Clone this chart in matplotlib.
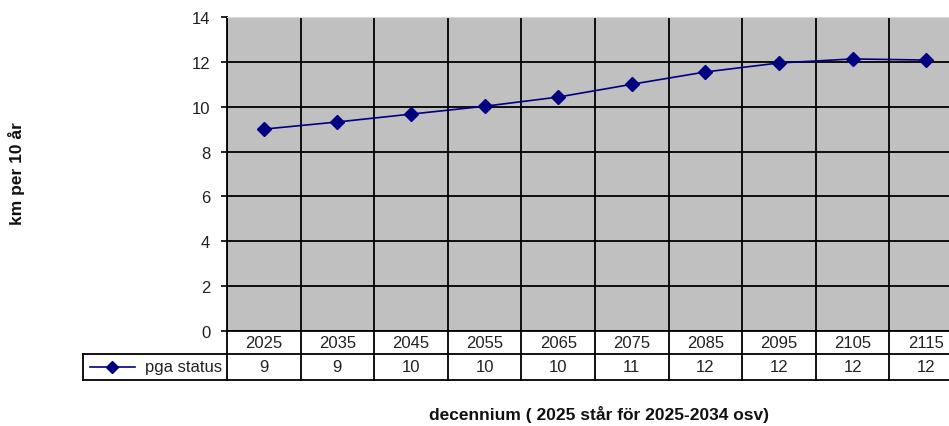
import numpy as np
import matplotlib
matplotlib.use('Agg')
import matplotlib.pyplot as plt
import matplotlib.transforms as mtransforms
from matplotlib.lines import Line2D

plt.rcParams['font.family'] = ['Liberation Sans', 'DejaVu Sans']

years = ['2025', '2035', '2045', '2055', '2065', '2075', '2085', '2095', '2105', '2115']
values = [9.0, 9.32, 9.67, 10.02, 10.43, 11.0, 11.55, 11.95, 12.13, 12.08]
table_values = ['9', '9', '10', '10', '10', '11', '12', '12', '12', '12']
series_name = 'pga status'
y_ticks = [0, 2, 4, 6, 8, 10, 12, 14]

W, H = 949, 427
fig = plt.figure(figsize=(W / 100, H / 100), dpi=100)
ax = fig.add_axes([227 / W, 1 - 332 / H, 736 / W, 314 / H])
ax.set_facecolor('#c0c0c0')

x = np.arange(len(years))
ax.plot(x, values, color='#000080', lw=1.2, marker='D', ms=7,
        markerfacecolor='#000080', markeredgecolor='#000080')

ax.set_xlim(-0.5, len(years) - 0.5)
ax.set_ylim(0, 14)
ax.set_yticks(y_ticks)
ax.set_xticks(np.arange(len(years) + 1) - 0.5)
ax.set_xticklabels([])
ax.tick_params(axis='x', length=0)
ax.tick_params(axis='y', length=4, width=1.2, pad=8, labelsize=12,
               color='black', labelcolor='#222222')
ax.grid(True, color='black', lw=1.3)
ax.set_axisbelow(True)
ax.spines['right'].set_visible(False)
ax.spines['top'].set_color('#d8d8d8')
ax.spines['left'].set_linewidth(1.3)
ax.spines['bottom'].set_linewidth(1.3)

# data table below the axis
tr = mtransforms.blended_transform_factory(ax.transData, ax.transAxes)
r1 = -23 / 314
r2 = -49 / 314
leg_left = -0.5 - 144 / 73.6
n = len(years)
lk = dict(color='black', lw=1.3, transform=tr, clip_on=False)
ax.add_line(Line2D([leg_left, n - 0.5], [r1, r1], **lk))
ax.add_line(Line2D([leg_left, n - 0.5], [r2, r2], **lk))
ax.add_line(Line2D([leg_left, leg_left], [r1, r2], **lk))
for b in np.arange(n + 1) - 0.5:
    ax.add_line(Line2D([b, b], [0, r2], **lk))
for i in range(n):
    ax.text(x[i], r1 / 2, years[i], transform=tr, ha='center', va='center',
            fontsize=12, color='#222222')
    ax.text(x[i], (r1 + r2) / 2, table_values[i], transform=tr, ha='center',
            va='center', fontsize=12, color='#222222')

# legend key inside the table
lx0 = leg_left + 7 / 73.6
lx1 = leg_left + 52 / 73.6
ym = (r1 + r2) / 2
ax.add_line(Line2D([lx0, lx1], [ym, ym], color='#000080', lw=1.2,
                   transform=tr, clip_on=False))
ax.add_line(Line2D([(lx0 + lx1) / 2], [ym], color='#000080', marker='D',
                   ms=6, transform=tr, clip_on=False))
ax.text(-0.5 - 5 / 73.6, ym, series_name, transform=tr, ha='right',
        va='center', fontsize=12, color='#222222')

fig.text(17 / W, 1 - 174 / H, 'km per 10 år', rotation=90, ha='center',
         va='center', fontsize=12.5, fontweight='bold', color='#111111')
fig.text(599 / W, 1 - 415 / H, 'decennium ( 2025 står för 2025-2034 osv)',
         ha='center', va='center', fontsize=12.5, fontweight='bold',
         color='#111111')

plt.savefig('out.png', dpi=100)
